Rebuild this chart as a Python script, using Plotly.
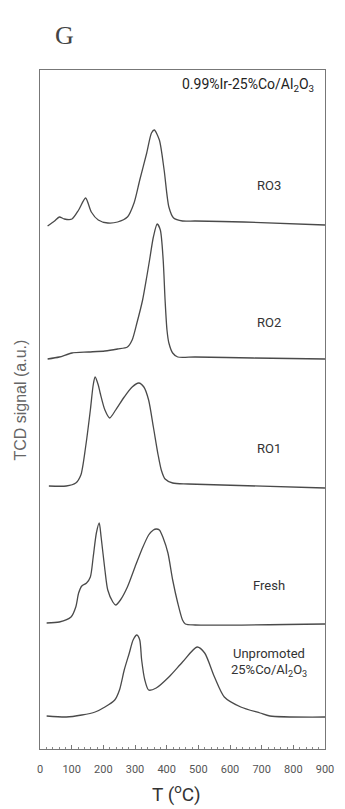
import plotly.graph_objects as go

# Temperature (°C) and TCD signal (a.u., stacked offsets) for each profile
ro3_T = [24, 46, 61, 77, 101, 122, 144, 162, 184, 214, 245, 276, 297, 315, 337, 352, 361, 377, 392, 407, 422, 450, 490, 643, 900]
ro3_S = [523, 528, 532, 530, 530, 539, 551, 537, 529, 526, 527, 532, 546, 569, 596, 616, 619, 609, 579, 542, 531, 528, 528, 527, 524]

ro2_T = [24, 61, 101, 153, 205, 245, 276, 291, 306, 324, 337, 346, 358, 370, 380, 389, 395, 401, 407, 419, 435, 490, 673, 900]
ro2_S = [390, 392, 396, 397, 398, 400, 402, 409, 426, 449, 472, 489, 512, 525, 519, 489, 449, 419, 406, 396, 392, 392, 391, 390]

ro1_T = [28, 83, 113, 129, 144, 159, 168, 174, 184, 190, 205, 220, 239, 266, 291, 312, 328, 343, 358, 373, 383, 395, 419, 468, 900]
ro1_S = [263, 263, 266, 274, 302, 339, 364, 372, 364, 356, 339, 331, 339, 352, 362, 366, 362, 349, 322, 294, 279, 270, 266, 265, 261]

fresh_T = [21, 61, 98, 113, 122, 132, 147, 159, 168, 178, 187, 193, 205, 214, 230, 239, 254, 276, 300, 321, 343, 358, 367, 377, 389, 404, 419, 435, 450, 459, 490, 900]
fresh_S = [126, 127, 132, 142, 156, 163, 166, 172, 192, 216, 226, 212, 179, 159, 147, 144, 149, 162, 182, 199, 214, 219, 220, 219, 211, 196, 169, 146, 129, 125, 124, 125]

unp_T = [21, 83, 132, 174, 205, 236, 251, 266, 282, 294, 306, 315, 321, 331, 343, 367, 407, 450, 496, 520, 551, 582, 634, 695, 726, 900]
unp_S = [33, 32, 34, 37, 42, 49, 59, 79, 96, 109, 114, 109, 89, 69, 59, 61, 72, 87, 102, 96, 72, 52, 42, 36, 33, 32]

series_names = ["RO3", "RO2", "RO1", "Fresh", "Unpromoted"]
label_T = 722
label_S = [564, 427, 301, 164, 96]
sub_label = "25%Co/Al<sub>2</sub>O<sub>3</sub>"
sub_label_S = 79

x_ticks = [0, 100, 200, 300, 400, 500, 600, 700, 800, 900]

LINE = "#4a4a4a"
TXT = "#333333"
NARROW = "Liberation Sans Narrow, Arial Narrow, Roboto, sans-serif"

fig = go.Figure()
for T, S, n in [(ro3_T, ro3_S, "RO3"), (ro2_T, ro2_S, "RO2"), (ro1_T, ro1_S, "RO1"),
                (fresh_T, fresh_S, "Fresh"), (unp_T, unp_S, "Unpromoted")]:
    fig.add_trace(go.Scatter(x=T, y=S, mode="lines", name=n,
                             line=dict(color=LINE, width=1.3, shape="spline", smoothing=0.7),
                             showlegend=False, hoverinfo="skip"))

fig.update_layout(
    width=345, height=809,
    margin=dict(l=40, r=11, t=70, b=60),
    paper_bgcolor="white", plot_bgcolor="white",
    xaxis=dict(range=[0, 900], tickvals=x_ticks, ticktext=[str(v) for v in x_ticks],
               showgrid=False, zeroline=False, showline=True, mirror=True,
               linecolor="#777", linewidth=1, ticks="inside", ticklen=4, tickcolor="#777",
               minor=dict(ticks="inside", ticklen=2, dtick=20, tickcolor="#888"),
               tickfont=dict(family=NARROW, size=11, color="#555"),
               ticklabelstandoff=10),
    yaxis=dict(range=[0, 679], showgrid=False, zeroline=False, showline=True, mirror=True,
               linecolor="#777", linewidth=1, showticklabels=False, ticks=""),
)

ann = []
for name, s in zip(series_names, label_S):
    ann.append(dict(x=label_T, y=s, xref="x", yref="y", text=name, showarrow=False,
                    font=dict(family=NARROW, size=13, color=TXT), xanchor="center", yanchor="middle"))
ann.append(dict(x=label_T, y=sub_label_S, xref="x", yref="y", text=sub_label, showarrow=False,
                font=dict(family=NARROW, size=13, color=TXT), xanchor="center", yanchor="middle"))
ann.append(dict(x=0.969, y=0.978, xref="paper", yref="paper",
                text="0.99%Ir-25%Co/Al<sub>2</sub>O<sub>3</sub>", showarrow=False,
                font=dict(family=NARROW, size=14, color="#222"), xanchor="right", yanchor="middle"))
ann.append(dict(x=0.48, y=-0.066, xref="paper", yref="paper", text="T (<sup>o</sup>C)",
                showarrow=False, font=dict(family=NARROW, size=19, color="#333"),
                xanchor="center", yanchor="middle"))
ann.append(dict(x=-0.068, y=0.514, xref="paper", yref="paper", text="TCD signal (a.u.)",
                showarrow=False, textangle=-90, font=dict(family="Liberation Sans, Arial, sans-serif", size=16, color="#666"),
                xanchor="center", yanchor="middle"))
ann.append(dict(x=0.085, y=1.0515, xref="paper", yref="paper", text="G", showarrow=False,
                font=dict(family="Liberation Serif, Times New Roman, serif", size=26, color="#444"),
                xanchor="center", yanchor="middle"))
fig.update_layout(annotations=ann)

fig.write_html("out.html")
